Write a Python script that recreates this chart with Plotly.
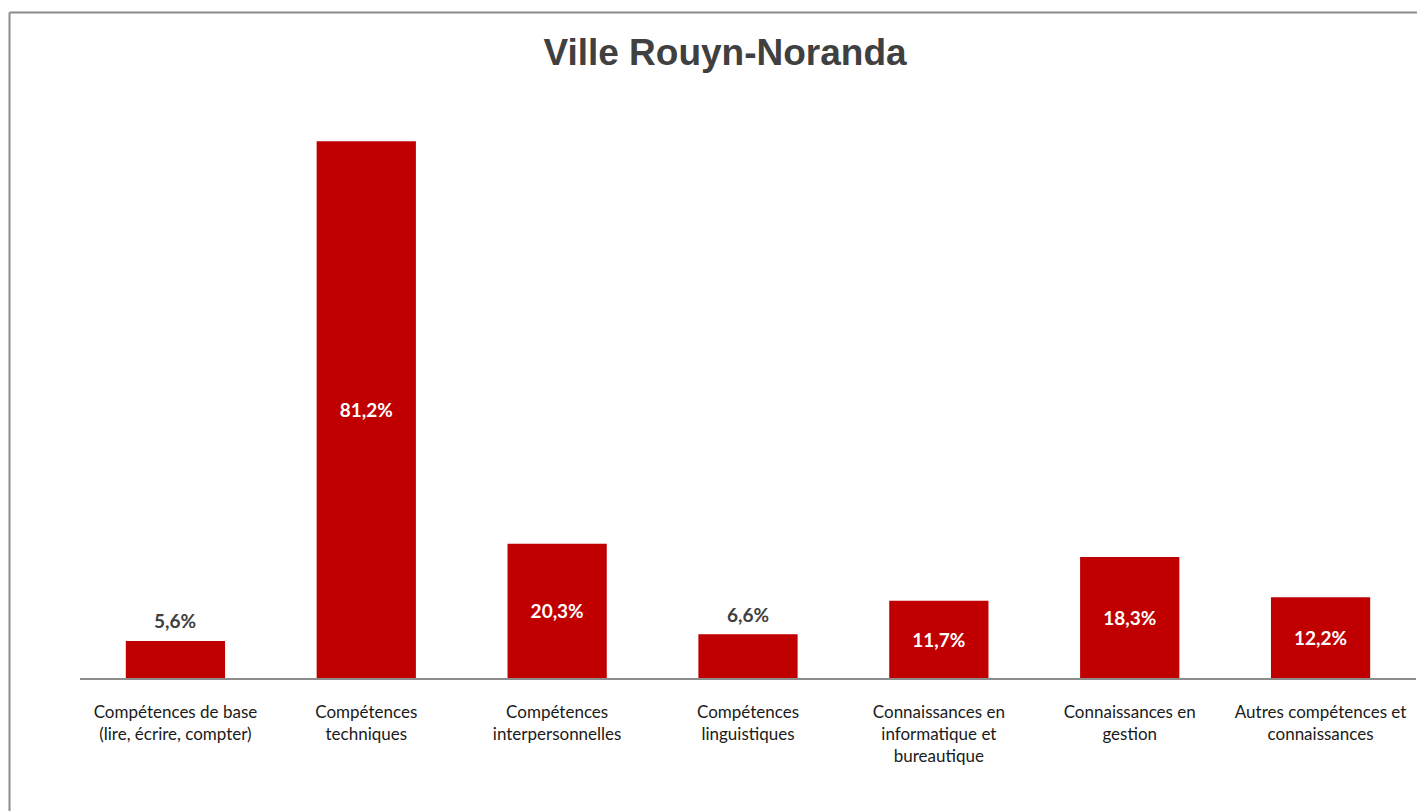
import plotly.graph_objects as go

categories = [
    "Compétences de base<br>(lire, écrire, compter)",
    "Compétences<br>techniques",
    "Compétences<br>interpersonnelles",
    "Compétences<br>linguistiques",
    "Connaissances en<br>informatique et<br>bureautique",
    "Connaissances en<br>gestion",
    "Autres compétences et<br>connaissances",
]
values = [5.6, 81.2, 20.3, 6.6, 11.7, 18.3, 12.2]
label_inside = [False, True, True, False, True, True, True]

# page body has an 8px margin, so the figure is 8px smaller than the window
W, H = 1417, 803
ml, mr, mt, mb = 72, 9, 75, 133

LABEL_FONT = "Lato, 'Open Sans', sans-serif"

def fmt(v):
    return f"{v:.1f}".replace(".", ",") + "%"

fig = go.Figure(go.Bar(
    x=categories,
    y=values,
    width=0.52,
    marker=dict(color="#C00000", line=dict(width=0)),
    text=[fmt(v) if ins else "" for v, ins in zip(values, label_inside)],
    textposition=["inside" if ins else "none" for ins in label_inside],
    insidetextanchor="middle",
    insidetextfont=dict(family=LABEL_FONT, size=19, color="white", weight="bold"),
    constraintext="none",
    cliponaxis=False,
    hoverinfo="skip",
))

annotations = [
    dict(x=c, y=v, xref="x", yref="y", text=f"<b>{fmt(v)}</b>", showarrow=False,
         yanchor="middle", yshift=20,
         font=dict(family=LABEL_FONT, size=19, color="#404040"))
    for c, v, ins in zip(categories, values, label_inside) if not ins
]

pw = W - ml - mr
ph = H - mt - mb
top_y = (H - mb - 4.5) / ph
left_x = (1.5 - ml) / pw
fig.update_layout(
    width=W, height=H,
    margin=dict(l=ml, r=mr, t=mt, b=mb),
    paper_bgcolor="white",
    plot_bgcolor="white",
    showlegend=False,
    annotations=annotations,
    title=dict(
        text="<b>Ville Rouyn-Noranda</b>",
        x=717 / W, xanchor="center", y=1 - 44 / H, yanchor="middle",
        font=dict(family="'Liberation Sans', Arial, sans-serif", size=37, color="#404040"),
    ),
    xaxis=dict(
        showline=True, linecolor="#8c8c8c", linewidth=1.5,
        ticks="outside", ticklen=18, tickcolor="rgba(0,0,0,0)",
        tickfont=dict(family=LABEL_FONT, size=17, color="#1a1a1a"),
        showgrid=False, zeroline=False, fixedrange=True,
    ),
    yaxis=dict(
        range=[0, 90], visible=False, showgrid=False, zeroline=False, fixedrange=True,
    ),
    shapes=[
        dict(type="line", xref="paper", yref="paper",
             x0=left_x, x1=1.2, y0=top_y, y1=top_y,
             line=dict(color="#8c8c8c", width=2)),
        dict(type="line", xref="paper", yref="paper",
             x0=left_x, x1=left_x, y0=top_y, y1=-0.5,
             line=dict(color="#8c8c8c", width=2)),
    ],
)

fig.write_html("out.html")
